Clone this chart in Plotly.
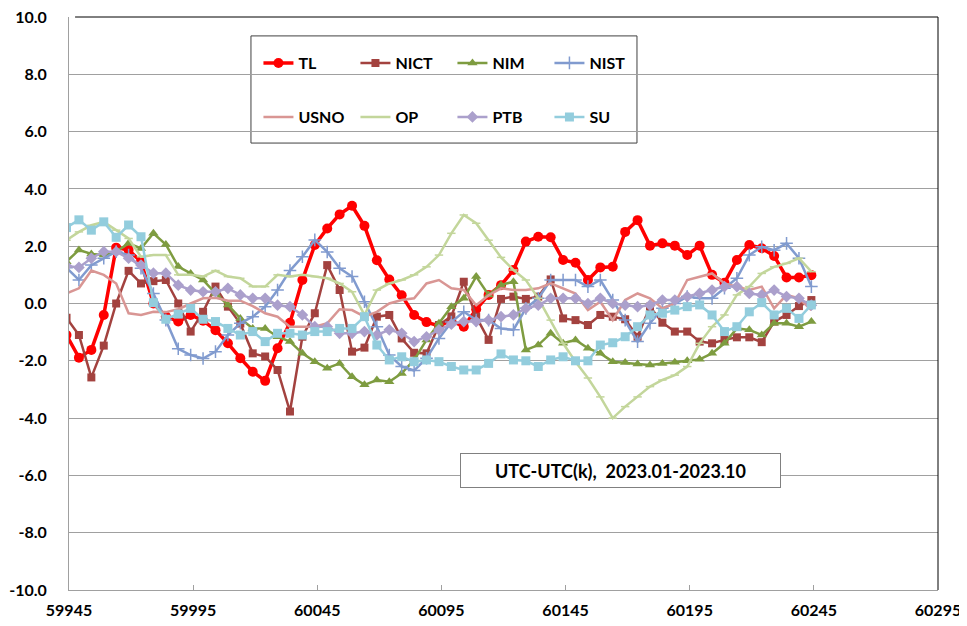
import plotly.graph_objects as go

mjd = [59944, 59949, 59954, 59959, 59964, 59969, 59974, 59979, 59984, 59989,
       59994, 59999, 60004, 60009, 60014, 60019, 60024, 60029, 60034, 60039,
       60044, 60049, 60054, 60059, 60064, 60069, 60074, 60079, 60084, 60089,
       60094, 60099, 60104, 60109, 60114, 60119, 60124, 60129, 60134, 60139,
       60144, 60149, 60154, 60159, 60164, 60169, 60174, 60179, 60184, 60189,
       60194, 60199, 60204, 60209, 60214, 60219, 60224, 60229, 60234, 60239,
       60244]

TL = [-1.1, -1.89, -1.62, -0.40, 1.95, 1.87, 1.46, 0.0, -0.45, -0.63,
      -0.4, -0.6, -0.93, -1.39, -1.91, -2.38, -2.70, -1.56, -0.67, 0.82,
      2.04, 2.62, 3.11, 3.41, 2.71, 1.51, 0.84, 0.29, -0.40, -0.65,
      -0.78, -0.6, -0.81, -0.2, 0.3, 0.64, 1.17, 2.16, 2.33, 2.31,
      1.52, 1.42, 0.82, 1.26, 1.28, 2.5, 2.91, 2.02, 2.1, 2.02,
      1.69, 2.02, 1.0, 0.72, 1.52, 2.04, 1.93, 1.66, 0.91, 0.91,
      0.99]
NICT = [-0.5, -1.10, -2.58, -1.47, 0.0, 1.14, 0.70, 0.78, 0.82, 0.0,
        -0.98, -0.29, 0.59, -0.11, -0.7, -1.74, -1.85, -2.32, -3.77, -1.16,
        -0.34, 1.34, 0.47, -1.68, -1.54, -0.46, -0.40, -1.22, -1.72, -1.74,
        -0.75, -0.45, 0.76, -0.46, -1.27, 0.16, 0.24, 0.16, 0.24, 0.84,
        -0.52, -0.58, -0.75, -0.40, -0.46, -0.55, -1.16, -0.11, -0.67, -0.98,
        -0.98, -1.33, -1.39, -1.27, -1.18, -1.18, -1.35, -0.63, -0.40, -0.09,
        0.12]
NIM = [1.46, 1.87, 1.73, 1.69, 1.81, 2.1, 1.92, 2.45, 2.06, 1.29,
       1.05, 0.82, 0.35, -0.05, -0.52, -0.87, -0.87, -1.16, -1.33, -1.74,
       -2.03, -2.26, -2.09, -2.56, -2.84, -2.67, -2.73, -2.44, -1.97, -1.27,
       -0.69, -0.11, 0.18, 0.94, 0.30, 0.65, 0.76, -1.62, -1.45, -1.04,
       -1.39, -1.27, -1.56, -1.74, -2.03, -2.06, -2.11, -2.15, -2.09, -2.05,
       -2.0, -1.95, -1.74, -1.39, -0.87, -0.92, -1.1, -0.69, -0.69, -0.81,
       -0.63]
NIST = [1.25, 0.82, 1.34, 1.58, 1.81, 1.69, 1.23, 0.35, -0.58, -1.58,
        -1.8, -1.92, -1.68, -1.1, -0.69, -0.46, -0.11, 0.47, 1.15, 1.63,
        2.22, 1.8, 1.23, 0.94, 0.06, -0.81, -1.80, -2.20, -2.34, -1.91,
        -1.22, -0.65, -0.29, -0.58, -0.58, -0.87, -0.92, -0.17, 0.18, 0.82,
        0.82, 0.82, 0.59, 0.82, 0.12, -0.58, -1.33, -0.69, -0.17, 0.0,
        0.24, 0.18, 0.18, 0.53, 0.88, 1.69, 1.98, 1.86, 2.10, 1.58,
        0.59]
USNO = [0.35, 0.53, 1.15, 1.0, 0.7, -0.34, -0.4, -0.29, -0.3, -0.2,
        0.0, 0.18, 0.2, 0.1, 0.1, -0.09, -0.34, -0.46, -0.81, -0.81,
        -0.81, -0.69, -0.2, -0.23, -0.46, -0.29, 0.0, 0.12, 0.18, 0.70,
        0.82, 0.53, 0.47, -0.06, 0.29, 0.53, 0.47, 0.47, 0.53, 0.7,
        0.53, 0.35, -0.23, 0.06, -0.58, 0.12, 0.35, 0.18, -0.17, 0.0,
        0.82, 0.94, 1.05, 0.70, 0.59, 0.47, 0.59, -0.17, 0.30, 0.18,
        -0.23]
OP = [2.21, 2.5, 2.73, 2.85, 2.56, 2.27, 1.63, 1.69, 1.69, 1.0,
      1.0, 0.94, 1.15, 0.94, 0.88, 0.59, 0.59, 1.0, 0.94, 1.0,
      0.94, 0.88, 0.70, 0.41, -0.40, 0.47, 0.70, 0.82, 1.0, 1.28,
      1.69, 2.45, 3.09, 2.8, 2.21, 1.61, 1.17, 0.82, 0.18, -0.58,
      -1.39, -2.03, -2.6, -3.26, -4.0, -3.6, -3.26, -2.9, -2.67, -2.5,
      -2.2, -1.39, -0.81, -0.4, 0.3, 0.59, 1.05, 1.28, 1.40, 1.58,
      1.11]
PTB = [1.31, 1.26, 1.58, 1.81, 1.81, 1.58, 1.34, 1.06, 1.06, 0.64,
       0.47, 0.41, 0.41, 0.53, 0.3, 0.18, 0.18, -0.06, -0.11, -0.40,
       -0.81, -0.81, -1.04, -1.04, -0.98, -1.1, -0.92, -1.04, -1.33, -1.16,
       -0.92, -0.72, -0.63, -0.63, -0.58, -0.46, -0.40, -0.17, -0.06, 0.18,
       0.18, 0.18, 0.0, 0.18, 0.0, -0.06, -0.11, -0.06, 0.12, 0.12,
       0.24, 0.35, 0.47, 0.59, 0.59, 0.35, 0.3, 0.47, 0.24, 0.18,
       -0.06]
SU = [2.65, 2.92, 2.56, 2.85, 2.31, 2.74, 2.33, 0.03, -0.55, -0.37,
      -0.17, -0.55, -0.63, -0.87, -1.1, -0.98, -1.33, -1.04, -1.04, -1.1,
      -0.98, -0.98, -0.87, -0.87, -0.46, -1.45, -1.97, -1.86, -2.03, -1.97,
      -2.03, -2.2, -2.32, -2.32, -2.09, -1.76, -1.97, -2.0, -2.2, -1.97,
      -1.86, -2.0, -2.0, -1.45, -1.37, -1.16, -0.81, -0.40, -0.34, -0.23,
      -0.11, -0.05, -0.40, -0.98, -0.81, -0.29, 0.03, -0.40, -0.17, -0.52,
      -0.05]

x_ticks = [59945, 59995, 60045, 60095, 60145, 60195, 60245, 60295]
y_ticks = [-10, -8, -6, -4, -2, 0, 2, 4, 6, 8, 10]
y_tick_labels = ["-10.0", "-8.0", "-6.0", "-4.0", "-2.0", "0.0", "2.0", "4.0", "6.0", "8.0", "10.0"]
title_text = "UTC-UTC(k),\u00a0 2023.01-2023.10"

FONT = "Lato"

series = [
    ("TL", TL, dict(color="#FF0000", width=3.5), dict(symbol="circle", size=10, color="#FF0000"), "legend"),
    ("NICT", NICT, dict(color="#A3423F", width=2.5), dict(symbol="square", size=8, color="#A3423F"), "legend"),
    ("NIM", NIM, dict(color="#7E9C40", width=2.5), dict(symbol="triangle-up", size=9, color="#7E9C40"), "legend"),
    ("NIST", NIST, dict(color="#819BCF", width=2.5),
     dict(symbol="cross-thin", size=9, color="#819BCF", line=dict(color="#819BCF", width=1.5)), "legend"),
    ("USNO", USNO, dict(color="#D99694", width=2.5), None, "legend2"),
    ("OP", OP, dict(color="#C3D69B", width=2.5),
     dict(symbol="line-ew", size=6, color="#C3D69B", line=dict(color="#C3D69B", width=1.5)), "legend2"),
    ("PTB", PTB, dict(color="#ABA0CC", width=2.5), dict(symbol="diamond", size=9, color="#ABA0CC"), "legend2"),
    ("SU", SU, dict(color="#93CDDD", width=2.5), dict(symbol="square", size=9, color="#93CDDD"), "legend2"),
]

fig = go.Figure()
for name, vals, line, marker, lg in series:
    kw = dict(x=mjd, y=vals, name=name, line=line, legend=lg)
    if marker is None:
        kw["mode"] = "lines"
    else:
        kw["mode"] = "lines+markers"
        kw["marker"] = marker
    fig.add_trace(go.Scatter(**kw))

legend_common = dict(
    orientation="h", bgcolor="rgba(0,0,0,0)", borderwidth=0,
    font=dict(family=FONT, size=16, color="#000000", weight="bold"),
    entrywidth=52, entrywidthmode="pixels", xanchor="left", yanchor="middle",
    itemclick=False, itemdoubleclick=False,
)

# the page adds an 8px body margin, so the figure is drawn slightly smaller
fig.update_layout(
    width=959, height=618,
    margin=dict(l=61, r=29, t=9, b=36, autoexpand=False),
    plot_bgcolor="#FFFFFF", paper_bgcolor="#FFFFFF",
    font=dict(family=FONT, size=16, color="#000000"),
    showlegend=True,
    legend=dict(x=0.218, y=0.9197, **legend_common),
    legend2=dict(x=0.218, y=0.8255, **legend_common),
    xaxis=dict(
        range=[59945, 60295], tickvals=x_ticks, ticktext=[str(v) for v in x_ticks],
        showgrid=False, zeroline=False, showline=True, linecolor="#A0A0A0", linewidth=1,
        ticks="inside", ticklen=5, tickcolor="#A0A0A0", automargin=False,
        tickfont=dict(family=FONT, size=16, color="#000000", weight="bold"),
        ticklabelstandoff=6, ticklabeloverflow="allow",
    ),
    yaxis=dict(
        range=[-10, 10], tickvals=y_ticks, ticktext=y_tick_labels,
        showgrid=True, gridcolor="#A0A0A0", gridwidth=1, zeroline=False,
        showline=True, linecolor="#A0A0A0", linewidth=1, ticks="", automargin=False,
        tickfont=dict(family=FONT, size=16, color="#000000", weight="bold"),
        ticklabelstandoff=18, ticklabeloverflow="allow",
    ),
    shapes=[
        dict(type="rect", xref="paper", yref="paper", x0=0.2094, x1=0.6536, y0=0.780, y1=0.967,
             line=dict(color="#404040", width=1), fillcolor="rgba(255,255,255,0.75)", layer="between"),
        dict(type="line", xref="paper", yref="paper", x0=0.007, x1=1.0, y0=1.0, y1=1.0,
             line=dict(color="#000000", width=1)),
        dict(type="line", xref="paper", yref="paper", x0=1.0, x1=1.0, y0=0.0, y1=1.0,
             line=dict(color="#000000", width=1)),
    ],
    annotations=[
        dict(text=title_text, xref="paper", yref="paper", x=0.635, y=0.2077,
             xanchor="center", yanchor="middle", showarrow=False,
             font=dict(family=FONT, size=18, color="#000000", weight="bold"),
             bgcolor="#FFFFFF", bordercolor="#808080", borderwidth=1, borderpad=2,
             width=315, height=29, align="center"),
    ],
)

fig.write_html("out.html")
